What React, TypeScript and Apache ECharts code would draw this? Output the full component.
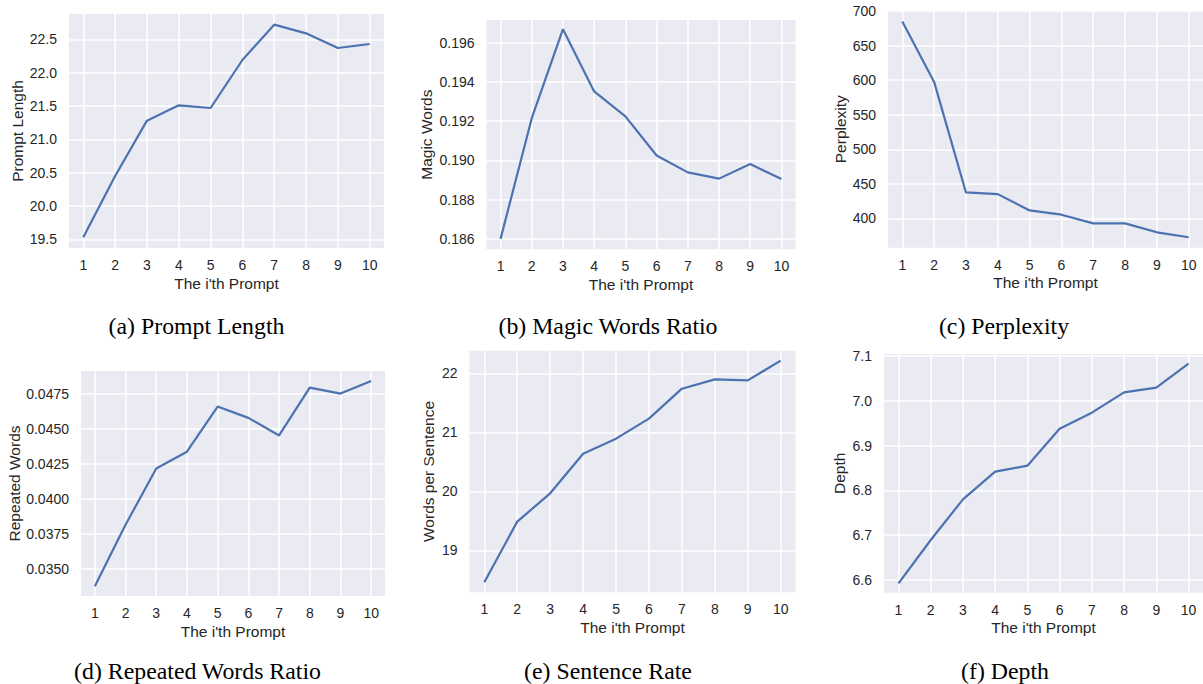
import React, { useEffect, useRef } from "react";
import * as echarts from "echarts";

const prompts = [1, 2, 3, 4, 5, 6, 7, 8, 9, 10];

const promptLength = [19.53, 20.45, 21.28, 21.51, 21.47, 22.19, 22.72, 22.59, 22.37, 22.43];
const magicWords = [0.186, 0.19215, 0.19668, 0.19351, 0.19224, 0.19025, 0.18939, 0.18907, 0.18981, 0.18905];
const perplexity = [685.1, 597.6, 437.5, 435.1, 411.5, 405.3, 392.8, 392.8, 379.8, 372.6];
const repeatedWords = [0.03377, 0.03815, 0.04217, 0.04336, 0.04658, 0.04577, 0.04452, 0.04793, 0.0475, 0.0484];
const wordsPerSentence = [18.458, 19.486, 19.966, 20.638, 20.893, 21.232, 21.74, 21.898, 21.881, 22.215];
const depth = [6.5926, 6.6893, 6.78, 6.8418, 6.8552, 6.9378, 6.9735, 7.0189, 7.0293, 7.0829];

const ticksA = [19.5, 20.0, 20.5, 21.0, 21.5, 22.0, 22.5];
const ticksB = [0.186, 0.188, 0.19, 0.192, 0.194, 0.196];
const ticksC = [400, 450, 500, 550, 600, 650, 700];
const ticksD = [0.035, 0.0375, 0.04, 0.0425, 0.045, 0.0475];
const ticksE = [19, 20, 21, 22];
const ticksF = [6.6, 6.7, 6.8, 6.9, 7.0, 7.1];

const yNames = ["Prompt Length", "Magic Words", "Perplexity", "Repeated Words", "Words per Sentence", "Depth"];
const captions = [
  "(a) Prompt Length",
  "(b) Magic Words Ratio",
  "(c) Perplexity",
  "(d) Repeated Words Ratio",
  "(e) Sentence Rate",
  "(f) Depth",
];
const xName = "The i'th Prompt";

const panels = [
  { data: promptLength, ticks: ticksA, dec: 1, min: 19.37, max: 22.88, grid: { left: 69, top: 14, width: 315, height: 234 }, gap: 44, cap: [196.5, 326] },
  { data: magicWords, ticks: ticksB, dec: 3, min: 0.18547, max: 0.19715, grid: { left: 486.5, top: 20, width: 309, height: 229.3 }, gap: 52, cap: [608, 326] },
  { data: perplexity, ticks: ticksC, dec: 0, min: 357.5, max: 700.7, grid: { left: 888, top: 10.7, width: 319.4, height: 237 }, gap: 40, cap: [1004, 326] },
  { data: repeatedWords, ticks: ticksD, dec: 4, min: 0.03308, max: 0.04911, grid: { left: 81, top: 371, width: 304, height: 225 }, gap: 57, cap: [197.5, 671] },
  { data: wordsPerSentence, ticks: ticksE, dec: 0, min: 18.288, max: 22.384, grid: { left: 469.5, top: 350.7, width: 326, height: 241.6 }, gap: 33, cap: [608, 671] },
  { data: depth, ticks: ticksF, dec: 1, min: 6.5717, max: 7.1045, grid: { left: 884, top: 354, width: 323.4, height: 238.7 }, gap: 36.5, cap: [1005, 671] },
];

const TEXT = "#262626";
const SANS = "'Liberation Sans', Arial, sans-serif";

export default function App() {
  const ref = useRef<HTMLDivElement>(null);
  useEffect(() => {
    document.body.style.margin = "0";
    const chart = echarts.init(ref.current!, null, { renderer: "svg" });
    const grids: any[] = [];
    const xAxes: any[] = [];
    const yAxes: any[] = [];
    const series: any[] = [];
    const graphics: any[] = [];
    panels.forEach((p, i) => {
      grids.push({
        ...p.grid,
        show: true,
        backgroundColor: "#eaeaf2",
        borderWidth: 0,
        containLabel: false,
      });
      xAxes.push({
        type: "value",
        gridIndex: i,
        min: 0.55,
        max: 10.45,
        name: xName,
        nameLocation: "middle",
        nameGap: 27,
        nameTextStyle: { color: TEXT, fontSize: 15.5, fontFamily: SANS },
        axisLine: { show: false },
        axisTick: { show: false, customValues: prompts },
        axisLabel: { customValues: prompts, color: TEXT, fontSize: 14, fontFamily: SANS, margin: 10 },
        splitLine: { show: true, lineStyle: { color: "#ffffff", width: 1.5 } },
      });
      yAxes.push({
        type: "value",
        gridIndex: i,
        min: p.min,
        max: p.max,
        name: yNames[i],
        nameLocation: "middle",
        nameGap: p.gap,
        nameTextStyle: { color: TEXT, fontSize: 15.5, fontFamily: SANS },
        axisLine: { show: false },
        axisTick: { show: false, customValues: p.ticks },
        axisLabel: {
          customValues: p.ticks,
          color: TEXT,
          fontSize: 14,
          fontFamily: SANS,
          margin: 12,
          formatter: (v: number) => v.toFixed(p.dec),
        },
        splitLine: { show: true, lineStyle: { color: "#ffffff", width: 1.5 } },
      });
      series.push({
        type: "line",
        xAxisIndex: i,
        yAxisIndex: i,
        data: prompts.map((x, k) => [x, p.data[k]]),
        showSymbol: false,
        lineStyle: { color: "#4c72b0", width: 2.2 },
        itemStyle: { color: "#4c72b0" },
      });
      graphics.push({
        type: "text",
        x: p.cap[0],
        y: p.cap[1],
        style: {
          text: captions[i],
          fill: "#000000",
          font: "23.8px 'Liberation Serif', 'Times New Roman', serif",
          textAlign: "center",
          textVerticalAlign: "middle",
        },
      });
    });
    chart.setOption({
      animation: false,
      backgroundColor: "#ffffff",
      grid: grids,
      xAxis: xAxes,
      yAxis: yAxes,
      series,
      graphic: graphics,
    });
    return () => chart.dispose();
  }, []);
  return <div ref={ref} style={{ position: "absolute", left: 0, top: 0, width: 1203, height: 684 }} />;
}
